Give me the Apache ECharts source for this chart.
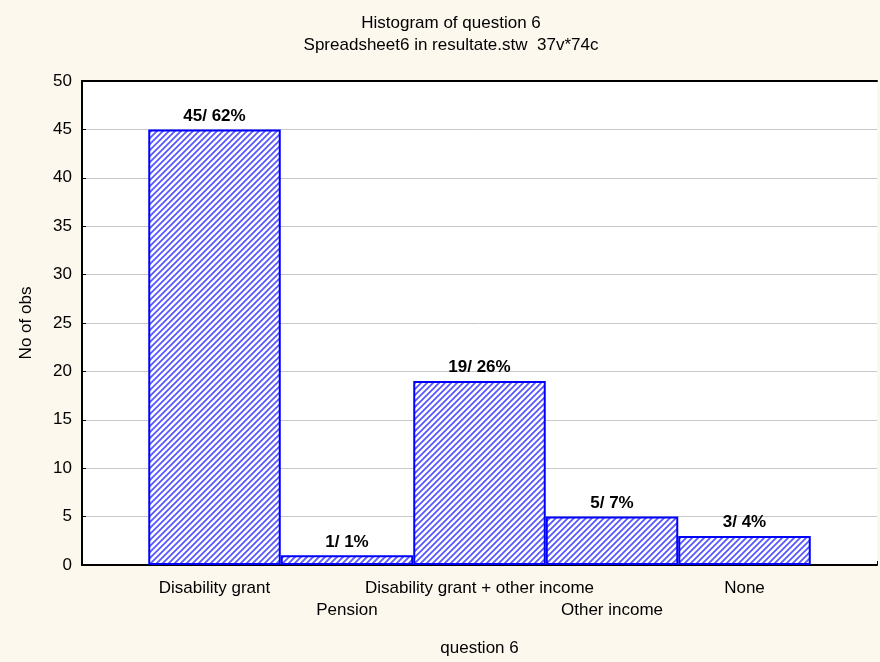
<!DOCTYPE html>
<html>
<head>
<meta charset="utf-8">
<script src="https://cdn.jsdelivr.net/npm/echarts@6/dist/echarts.min.js"></script>
<style>
  html, body { margin: 0; padding: 0; background: #fdf8ee; }
  #main { width: 880px; height: 662px; }
</style>
</head>
<body>
<div id="main"></div>
<script>
// histogram data (question 6)
var categories = ['', 'Disability grant', 'Pension', 'Disability grant + other income', 'Other income', 'None', ''];
var counts = [null, 45, 1, 19, 5, 3, null];
var percents = [null, 62, 1, 26, 7, 4, null];
var yTicks = { min: 0, max: 50, step: 5 };

// diagonal hatch fill like the original
function hatch() {
  var c = document.createElement('canvas');
  c.width = 6; c.height = 6;
  var g = c.getContext('2d');
  g.fillStyle = '#ffffff';
  g.fillRect(0, 0, 6, 6);
  g.strokeStyle = '#5858ff';
  g.lineWidth = 1.8;
  g.beginPath();
  g.moveTo(-1, 7); g.lineTo(7, -1);
  g.moveTo(-4, 4); g.lineTo(4, -4);
  g.moveTo(2, 10); g.lineTo(10, 2);
  g.stroke();
  return c;
}

var font = 'Liberation Sans';
var chart = echarts.init(document.getElementById('main'));
chart.setOption({
  backgroundColor: '#fdf8ee',
  animation: false,
  title: [{
    text: 'Histogram of question 6',
    left: 446, top: 10, textAlign: 'center',
    textStyle: { fontFamily: font, fontSize: 17, fontWeight: 'normal', color: '#000' }
  }, {
    text: 'Spreadsheet6 in resultate.stw  37v*74c',
    left: 446, top: 32, textAlign: 'center',
    textStyle: { fontFamily: font, fontSize: 17, fontWeight: 'normal', color: '#000' }
  }],
  grid: { left: 82, top: 81, right: 0, bottom: 96, show: true, backgroundColor: '#ffffff', borderWidth: 0 },
  xAxis: [{
    type: 'category',
    data: categories,
    boundaryGap: false,
    name: 'question 6',
    nameLocation: 'middle',
    nameGap: 75,
    nameMoveOverlap: false,
    nameTextStyle: { fontFamily: font, fontSize: 17, color: '#000' },
    axisLine: { lineStyle: { color: '#000', width: 2 } },
    axisTick: { show: true, inside: true, length: 4, interval: 0, lineStyle: { color: '#000' } },
    axisLabel: {
      interval: 0,
      margin: 12,
      lineHeight: 22,
      fontFamily: font, fontSize: 17, color: '#000',
      formatter: function (v, i) { return i % 2 === 0 ? '\n' + v : v; }
    },
    splitLine: { show: false }
  }, {
    type: 'category',
    position: 'top',
    data: categories,
    boundaryGap: false,
    axisLine: { lineStyle: { color: '#000', width: 2 } },
    axisTick: { show: false },
    axisLabel: { show: false }
  }],
  yAxis: {
    type: 'value',
    min: yTicks.min, max: yTicks.max, interval: yTicks.step,
    name: 'No of obs',
    nameLocation: 'middle',
    nameGap: 47,
    nameMoveOverlap: false,
    nameTextStyle: { fontFamily: font, fontSize: 17, color: '#000' },
    axisLine: { show: true, lineStyle: { color: '#000', width: 2 } },
    axisTick: { show: true, inside: true, length: 4, lineStyle: { color: '#000' } },
    axisLabel: { margin: 10, fontFamily: font, fontSize: 17, color: '#000' },
    splitLine: { show: true, lineStyle: { color: '#c8c8c8', width: 1 } }
  },
  series: [{
    type: 'bar',
    data: counts,
    barWidth: '100%',
    itemStyle: {
      color: { image: hatch(), repeat: 'repeat' },
      borderColor: '#0000ff',
      borderWidth: 2
    },
    label: {
      show: true,
      position: 'top',
      distance: 5,
      fontFamily: font, fontSize: 17, fontWeight: 'bold', color: '#000',
      formatter: function (p) { return counts[p.dataIndex] + '/ ' + percents[p.dataIndex] + '%'; }
    }
  }]
});
</script>
</body>
</html>
